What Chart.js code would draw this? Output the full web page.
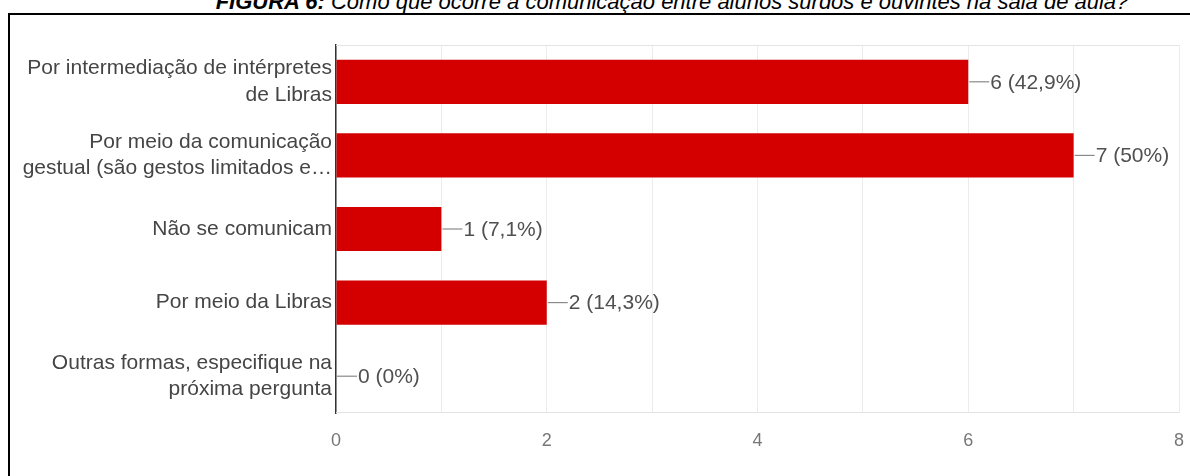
<!DOCTYPE html>
<html lang="pt">
<head>
<meta charset="utf-8">
<title>Figura 6</title>
<script src="https://cdn.jsdelivr.net/npm/chart.js@4/dist/chart.umd.min.js"></script>
<style>
    html, body {
        margin: 0;
        padding: 0;
        background: #fff;
        overflow: hidden;
    }
    #wrap {
        position: relative;
        width: 1190px;
        height: 476px;
        overflow: hidden;
    }
    #caption {
        position: absolute;
        left: 0;
        width: 1344px;
        top: -11px;
        text-align: center;
        font-family: "Liberation Sans", Arial, sans-serif;
        font-style: italic;
        font-size: 22px;
        color: #000;
        white-space: nowrap;
    }
    #frame {
        position: absolute;
        left: 8px;
        top: 13px;
        width: 1200px;
        height: 500px;
        border: 2px solid #000;
    }
    #chartBox {
        position: absolute;
        left: 0;
        top: 0;
        width: 1190px;
        height: 476px;
    }
</style>
</head>
<body>
<div id="wrap">
    <div id="caption"><b>FIGURA 6:</b> Como que ocorre a comunicação entre alunos surdos e ouvintes na sala de aula?</div>
    <div id="frame"></div>
    <div id="chartBox"><canvas id="respostas"></canvas></div>
</div>

<script>
// Respostas do formulário (pergunta de múltipla escolha, 14 participantes)
const categorias = [
    ['Por intermediação de intérpretes', 'de Libras'],
    ['Por meio da comunicação', 'gestual (são gestos limitados e…'],
    'Não se comunicam',
    'Por meio da Libras',
    ['Outras formas, especifique na', 'próxima pergunta']
];
const respostas = [6, 7, 1, 2, 0];
const participantes = 14;
const ticksX = ['0', '2', '4', '6', '8'];

function rotulo(v) {
    const pct = (v / participantes * 100).toFixed(1).replace('.', ',').replace(/,0$/, '');
    return v + ' (' + pct + '%)';
}

// linha de ligação + texto com valor ao lado de cada barra
const rotulosBarras = {
    id: 'rotulosBarras',
    afterDatasetsDraw(chart) {
        const ctx = chart.ctx;
        const meta = chart.getDatasetMeta(0);
        ctx.save();
        ctx.font = '21px "Liberation Sans", Arial, sans-serif';
        ctx.textBaseline = 'middle';
        ctx.textAlign = 'left';
        meta.data.forEach((bar, i) => {
            const x = bar.x + 1;
            const y = bar.y;
            ctx.strokeStyle = '#8a8a8a';
            ctx.lineWidth = 1.2;
            ctx.beginPath();
            ctx.moveTo(x, y);
            ctx.lineTo(x + 20, y);
            ctx.stroke();
            ctx.fillStyle = '#505050';
            ctx.fillText(rotulo(respostas[i]), x + 21, y + 1);
        });
        ctx.restore();
    }
};

// moldura clara em cima e embaixo da área do gráfico
const moldura = {
    id: 'moldura',
    beforeDatasetsDraw(chart) {
        const { ctx, chartArea } = chart;
        ctx.save();
        ctx.strokeStyle = '#e4e4e4';
        ctx.lineWidth = 1;
        ctx.beginPath();
        ctx.moveTo(chartArea.left, chartArea.top + 0.5);
        ctx.lineTo(chartArea.right, chartArea.top + 0.5);
        ctx.moveTo(chartArea.left, chartArea.bottom - 0.5);
        ctx.lineTo(chartArea.right, chartArea.bottom - 0.5);
        ctx.stroke();
        ctx.restore();
    }
};

new Chart(document.getElementById('respostas'), {
    type: 'bar',
    data: {
        labels: categorias,
        datasets: [{
            data: respostas,
            backgroundColor: '#d40000',
            borderWidth: 0,
            barPercentage: 0.6,
            categoryPercentage: 1
        }]
    },
    options: {
        indexAxis: 'y',
        responsive: true,
        maintainAspectRatio: false,
        animation: false,
        layout: { padding: { top: 45, right: 11, left: 0, bottom: 0 } },
        plugins: {
            legend: { display: false },
            tooltip: { enabled: false }
        },
        scales: {
            x: {
                min: 0,
                max: 8,
                grid: { color: '#ececec', drawTicks: false },
                border: { display: false },
                ticks: {
                    stepSize: 1,
                    padding: 17,
                    color: '#777',
                    font: { family: '"Liberation Sans", Arial, sans-serif', size: 18 },
                    callback: (v) => ticksX.includes(String(v)) ? String(v) : ''
                },
                afterFit(scale) {
                    scale.height = 63;
                    scale.paddingLeft = 0;
                    scale.paddingRight = 0;
                }
            },
            y: {
                grid: { display: false, drawTicks: false },
                border: { display: true, color: '#333', width: 1.5 },
                ticks: {
                    padding: 4,
                    color: '#454545',
                    font: { family: '"Liberation Sans", Arial, sans-serif', size: 21, lineHeight: 1.25 }
                },
                afterFit(scale) { scale.width = 336; }
            }
        }
    },
    plugins: [moldura, rotulosBarras]
});
</script>
</body>
</html>
